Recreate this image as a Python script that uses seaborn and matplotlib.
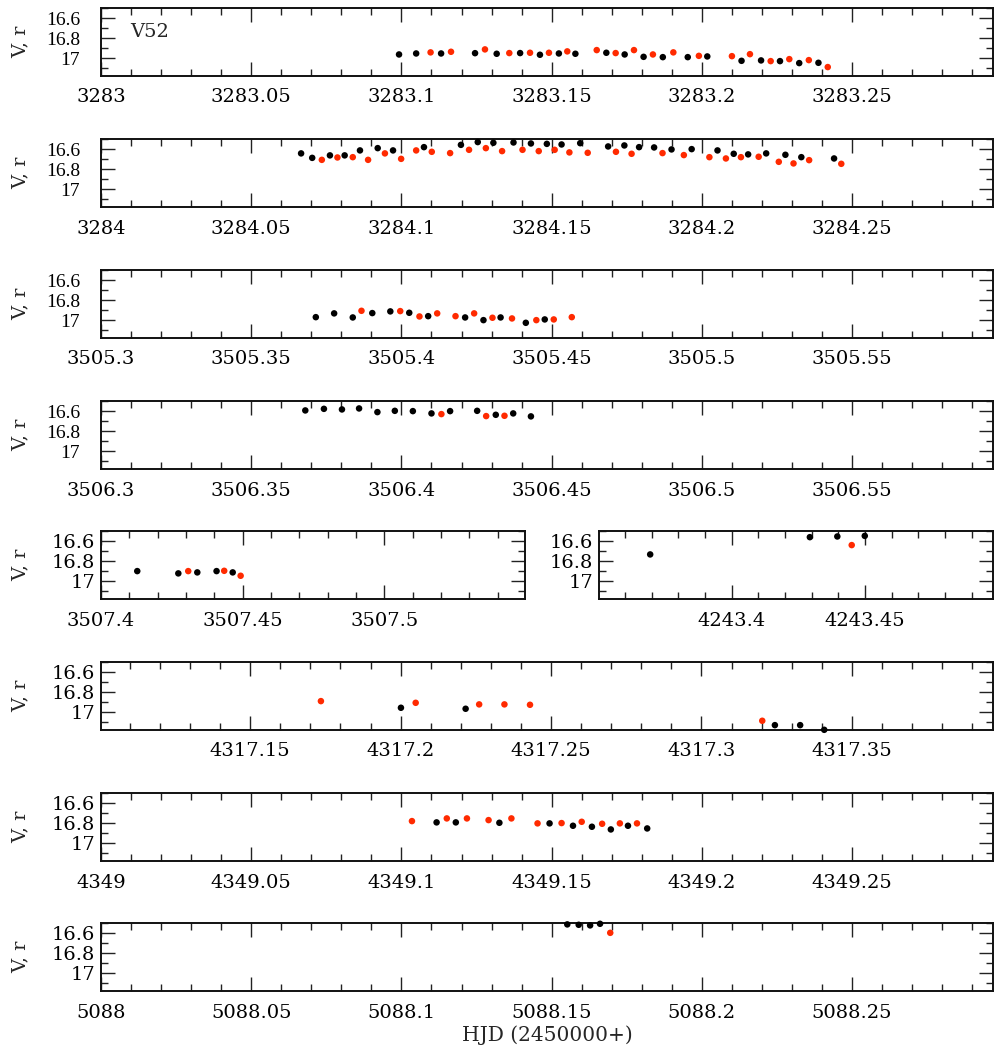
import matplotlib
matplotlib.use("Agg")
import matplotlib.pyplot as plt
from matplotlib.ticker import MultipleLocator, FuncFormatter
import numpy as np
import pandas as pd
import seaborn as sns

# ---------------------------------------------------------------------------
# Photometry of V52 per night: HJD - 2450000 and magnitude, V (black) and r (red)
# ---------------------------------------------------------------------------
n1_v_t = [3283.0992, 3283.1049, 3283.1132, 3283.1245, 3283.1317, 3283.1395, 3283.1461,
          3283.1524, 3283.1579, 3283.1682, 3283.1743, 3283.1806, 3283.1870, 3283.1953,
          3283.2018, 3283.2132, 3283.2197, 3283.2260, 3283.2324, 3283.2388]
n1_v_m = [16.963, 16.953, 16.953, 16.950, 16.956, 16.949, 16.966,
          16.953, 16.956, 16.946, 16.963, 16.987, 16.990, 16.990,
          16.983, 17.027, 17.023, 17.030, 17.050, 17.047]
n1_r_t = [3283.1097, 3283.1165, 3283.1278, 3283.1359, 3283.1428, 3283.1491, 3283.1552,
          3283.1650, 3283.1713, 3283.1774, 3283.1837, 3283.1905, 3283.1990, 3283.2100,
          3283.2160, 3283.2229, 3283.2291, 3283.2356, 3283.2419]
n1_r_m = [16.942, 16.936, 16.912, 16.949, 16.946, 16.946, 16.932,
          16.919, 16.949, 16.919, 16.963, 16.942, 16.977, 16.980,
          16.960, 17.030, 17.010, 17.020, 17.090]

n2_v_t = [3284.0666, 3284.0703, 3284.0762, 3284.0811, 3284.0862, 3284.0921, 3284.0972,
          3284.1075, 3284.1198, 3284.1254, 3284.1306, 3284.1373, 3284.1431, 3284.1484,
          3284.1533, 3284.1595, 3284.1688, 3284.1742, 3284.1791, 3284.1841, 3284.1899,
          3284.1966, 3284.2052, 3284.2106, 3284.2154, 3284.2214, 3284.2278, 3284.2331,
          3284.2440]
n2_v_m = [16.640, 16.685, 16.660, 16.660, 16.610, 16.587, 16.610,
          16.577, 16.554, 16.526, 16.533, 16.530, 16.540, 16.544,
          16.550, 16.537, 16.570, 16.560, 16.577, 16.580, 16.600,
          16.597, 16.610, 16.644, 16.650, 16.640, 16.654, 16.678,
          16.691]
n2_r_t = [3284.0735, 3284.0787, 3284.0838, 3284.0889, 3284.0945, 3284.0999, 3284.1049,
          3284.1101, 3284.1162, 3284.1225, 3284.1281, 3284.1335, 3284.1403, 3284.1457,
          3284.1510, 3284.1559, 3284.1620, 3284.1714, 3284.1766, 3284.1869, 3284.1940,
          3284.2025, 3284.2080, 3284.2130, 3284.2189, 3284.2256, 3284.2305, 3284.2357,
          3284.2464]
n2_r_m = [16.705, 16.681, 16.678, 16.705, 16.640, 16.695, 16.610,
          16.624, 16.637, 16.604, 16.587, 16.617, 16.604, 16.617,
          16.604, 16.630, 16.634, 16.624, 16.644, 16.637, 16.657,
          16.678, 16.691, 16.678, 16.674, 16.725, 16.741, 16.708,
          16.745]

n3_v_t = [3505.3715, 3505.3776, 3505.3838, 3505.3903, 3505.3963, 3505.4026, 3505.4089,
          3505.4212, 3505.4273, 3505.4330, 3505.4414, 3505.4477]
n3_v_m = [16.970, 16.932, 16.973, 16.929, 16.912, 16.926, 16.960,
          16.973, 17.000, 16.973, 17.027, 16.993]
n3_r_t = [3505.3867, 3505.3996, 3505.4060, 3505.4119, 3505.4180, 3505.4242, 3505.4303,
          3505.4368, 3505.4449, 3505.4507, 3505.4567]
n3_r_m = [16.906, 16.909, 16.963, 16.932, 16.960, 16.932, 16.976,
          16.983, 17.000, 16.993, 16.970]

n4_v_t = [3506.3680, 3506.3742, 3506.3802, 3506.3859, 3506.3920, 3506.3978, 3506.4038,
          3506.4100, 3506.4162, 3506.4252, 3506.4314, 3506.4372, 3506.4431]
n4_v_m = [16.590, 16.574, 16.580, 16.570, 16.607, 16.594, 16.597,
          16.620, 16.597, 16.594, 16.634, 16.620, 16.650]
n4_r_t = [3506.4133, 3506.4282, 3506.4343]
n4_r_m = [16.627, 16.647, 16.644]

n5_v_t = [3507.4128, 3507.4273, 3507.4340, 3507.4408, 3507.4465]
n5_v_m = [16.899, 16.922, 16.912, 16.899, 16.912]
n5_r_t = [3507.4308, 3507.4435, 3507.4493]
n5_r_m = [16.899, 16.896, 16.946]

n6_v_t = [4243.3694, 4243.4293, 4243.4396, 4243.4499]
n6_v_m = [16.731, 16.557, 16.550, 16.544]
n6_r_t = [4243.4450]
n6_r_m = [16.637]

n7_v_t = [4317.2001, 4317.2216, 4317.3244, 4317.3328, 4317.3408]
n7_v_m = [16.956, 16.966, 17.131, 17.131, 17.178]
n7_r_t = [4317.1735, 4317.2050, 4317.2261, 4317.2345, 4317.2430, 4317.3202]
n7_r_m = [16.889, 16.906, 16.922, 16.922, 16.926, 17.087]

n8_v_t = [4349.1117, 4349.1181, 4349.1326, 4349.1493, 4349.1571, 4349.1634, 4349.1697,
          4349.1754, 4349.1818]
n8_v_m = [16.791, 16.791, 16.795, 16.801, 16.825, 16.835, 16.862,
          16.825, 16.852]
n8_r_t = [4349.1035, 4349.1151, 4349.1218, 4349.1290, 4349.1366, 4349.1453, 4349.1533,
          4349.1600, 4349.1668, 4349.1727, 4349.1784]
n8_r_m = [16.778, 16.751, 16.751, 16.768, 16.751, 16.801, 16.798,
          16.785, 16.805, 16.801, 16.801]

n9_v_t = [5088.1552, 5088.1590, 5088.1628, 5088.1661]
n9_v_m = [16.509, 16.513, 16.519, 16.503]
n9_r_t = [5088.1695]
n9_r_m = [16.594]

# x-range shown for each night
x_ranges = [
    (3283.0, 3283.2969),
    (3284.0, 3284.2969),
    (3505.3, 3505.5969),
    (3506.3, 3506.5969),
    (3507.4, 3507.5497),
    (4243.3502, 4243.498),
    (4317.1004, 4317.3969),
    (4349.0, 4349.2969),
    (5088.0, 5088.2969),
]
mag_range = (17.18, 16.495)

nights = [
    (n1_v_t, n1_v_m, n1_r_t, n1_r_m),
    (n2_v_t, n2_v_m, n2_r_t, n2_r_m),
    (n3_v_t, n3_v_m, n3_r_t, n3_r_m),
    (n4_v_t, n4_v_m, n4_r_t, n4_r_m),
    (n5_v_t, n5_v_m, n5_r_t, n5_r_m),
    (n6_v_t, n6_v_m, n6_r_t, n6_r_m),
    (n7_v_t, n7_v_m, n7_r_t, n7_r_m),
    (n8_v_t, n8_v_m, n8_r_t, n8_r_m),
    (n9_v_t, n9_v_m, n9_r_t, n9_r_m),
]

sns.set_style("ticks")
plt.rcParams["font.family"] = ["DejaVu Serif"]
plt.rcParams["mathtext.fontset"] = "dejavuserif"

W, H = 994, 1053
fig = plt.figure(figsize=(W / 100, H / 100), dpi=100)

row_tops = [8, 139, 270, 401, 531, 662, 793, 923]
row_h = 68
# (row index, left px, right px) for each panel
panels = [
    (0, 101, 993), (1, 101, 993), (2, 101, 993), (3, 101, 993),
    (4, 101, 525), (4, 599, 993),
    (5, 101, 993), (6, 101, 993), (7, 101, 993),
]

palette = {"V": "#000000", "r": "#ff2a00"}


def fmt_x(v, pos):
    s = f"{v:.2f}".rstrip("0").rstrip(".")
    return s


def fmt_y(v, pos):
    s = f"{v:.1f}".rstrip("0").rstrip(".")
    return s


for k, ((row, x0, x1), (vt, vm, rt, rm)) in enumerate(zip(panels, nights)):
    top = row_tops[row]
    ax = fig.add_axes([x0 / W, 1 - (top + row_h) / H, (x1 - x0) / W, row_h / H])
    df = pd.DataFrame({
        "hjd": list(vt) + list(rt),
        "mag": list(vm) + list(rm),
        "band": ["V"] * len(vt) + ["r"] * len(rt),
    })
    sns.scatterplot(data=df, x="hjd", y="mag", hue="band", palette=palette,
                    s=22, linewidth=0, legend=False, ax=ax, zorder=3,
                    clip_on=False)
    ax.set_xlim(*x_ranges[k])
    ax.set_ylim(*mag_range)
    ax.set_xlabel("")
    ax.set_ylabel("")
    ax.xaxis.set_major_locator(MultipleLocator(0.05))
    ax.xaxis.set_minor_locator(MultipleLocator(0.01))
    ax.yaxis.set_major_locator(MultipleLocator(0.2))
    ax.yaxis.set_minor_locator(MultipleLocator(0.1))
    ax.xaxis.set_major_formatter(FuncFormatter(fmt_x))
    ax.yaxis.set_major_formatter(FuncFormatter(fmt_y))
    ax.tick_params(which="both", direction="in", top=True, right=True,
                   width=1.0, colors="#222222", labelcolor="black")
    ax.tick_params(which="major", length=10)
    ax.tick_params(which="minor", length=4.7)
    ax.tick_params(axis="x", labelsize=14, pad=9)
    lower = row >= 4
    ax.tick_params(axis="y", labelsize=14, pad=4 if lower else 15)
    if not lower:
        for lab in ax.get_yticklabels():
            lab.set_fontfamily("Liberation Serif")
    for sp in ax.spines.values():
        sp.set_linewidth(1.4)
        sp.set_color("#111111")
        sp.set_visible(True)
    if x0 == 101:
        fig.text(21 / W, 1 - (top + row_h / 2) / H, "V, r", rotation=90,
                 ha="center", va="center", fontsize=14)
    if k == 0:
        ax.text(0.033, 0.65, "V52", transform=ax.transAxes, ha="left",
                va="center", fontsize=14)

fig.text(547 / W, 1 - 1035 / H, "HJD (2450000+)", ha="center", va="center",
         fontsize=14.5)

fig.savefig("out.png", dpi=100)
